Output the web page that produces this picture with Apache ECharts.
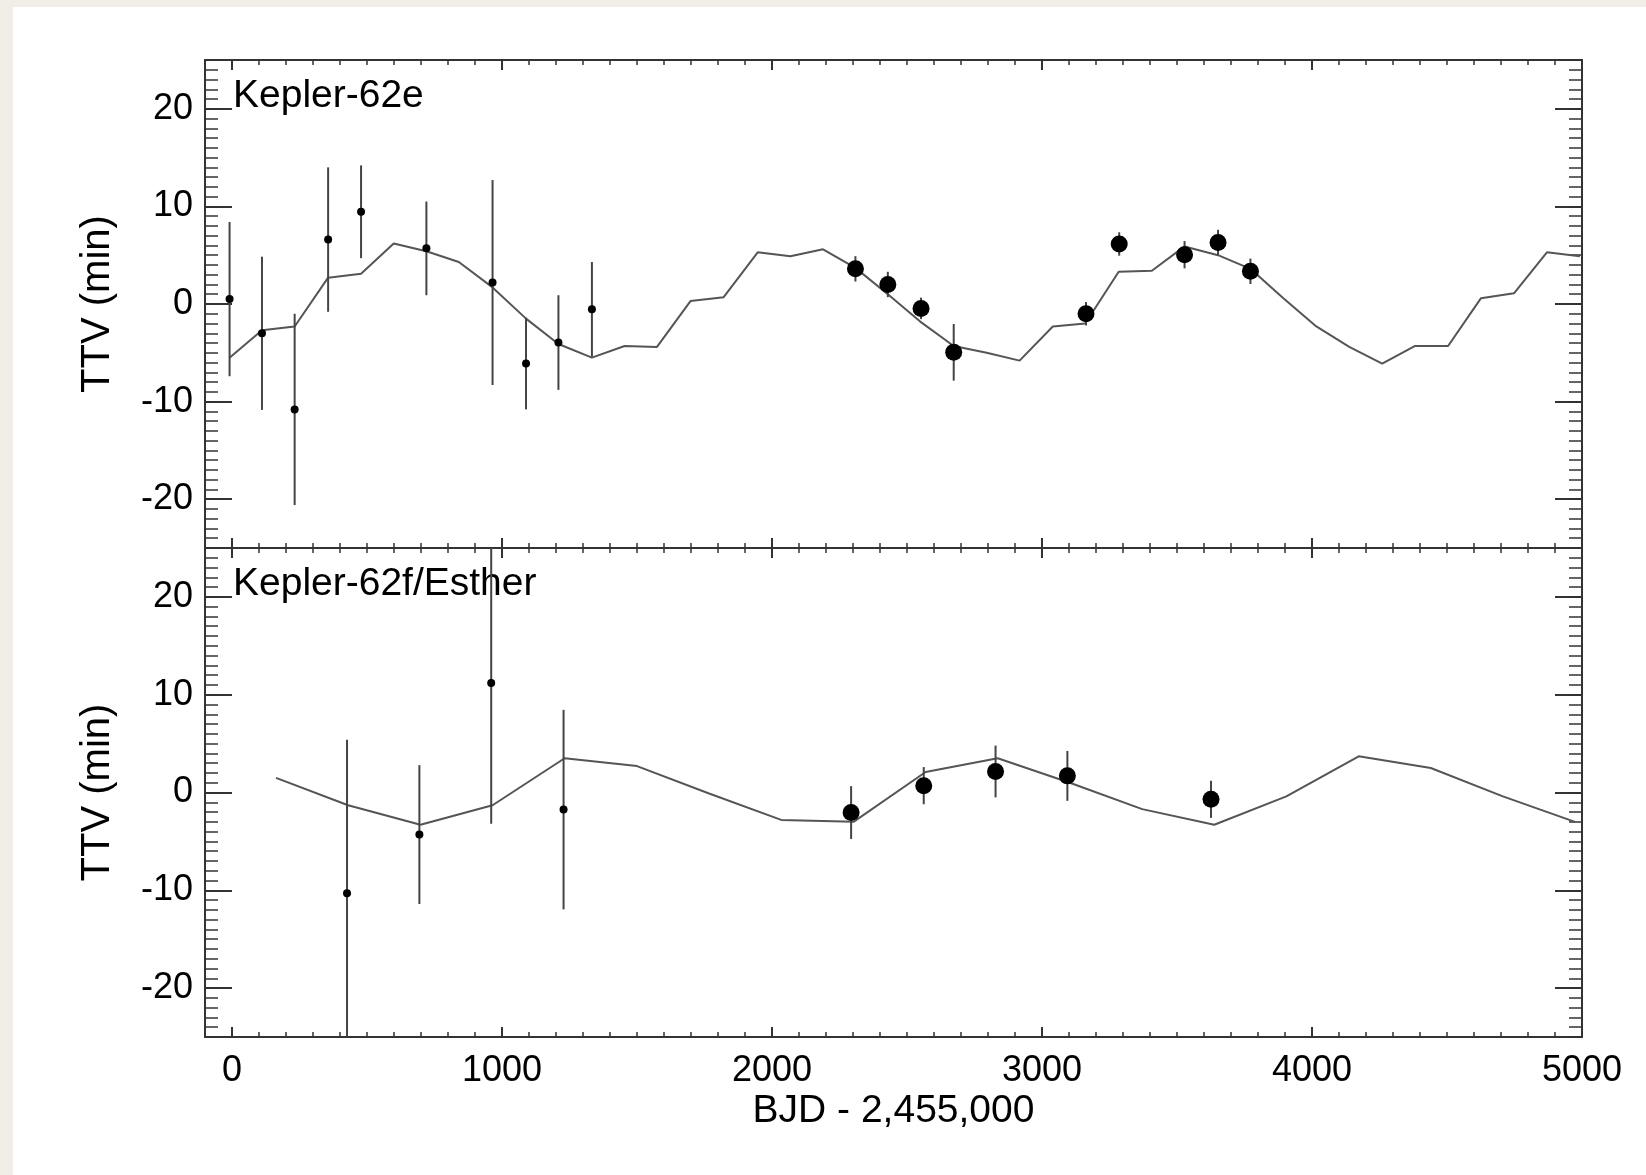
<!DOCTYPE html>
<html lang="en">

<head>
    <meta charset="UTF-8">
    <title>Kepler-62 TTV</title>
    <style>
        html, body { margin: 0; padding: 0; width: 1646px; height: 1175px; background: #f1eee8; overflow: hidden; }
        #paper { position: absolute; left: 13px; top: 7px; right: 0; bottom: 0; background: #fff; }
        #main { position: absolute; left: 0; top: 0; width: 1646px; height: 1175px; }
    </style>
</head>

<body>
    <div id="paper"></div>
    <div id="main"></div>
    <script src="https://cdn.jsdelivr.net/npm/echarts@6/dist/echarts.min.js"></script>
    <script>
    // Kepler-62e : observed transit timing variations (min)
    var eSmallTime = [-9, 111, 232, 356, 478, 720, 965, 1089, 1209, 1333];
    var eSmallTtv = [0.5, -3.0, -10.8, 6.6, 9.45, 5.7, 2.2, -6.1, -3.95, -0.55];
    var eSmallErr = [7.9, 7.85, 9.8, 7.4, 4.75, 4.8, 10.5, 4.7, 4.85, 4.85];
    var eBigTime = [2309, 2429, 2552, 2673, 3163, 3286, 3528, 3652, 3772];
    var eBigTtv = [3.6, 2.0, -0.45, -4.95, -1.0, 6.15, 5.05, 6.3, 3.35];
    var eBigErr = [1.3, 1.3, 1.1, 2.9, 1.2, 1.2, 1.4, 1.3, 1.3];
    // Kepler-62e : model
    var eModelTime = [-9, 111, 232, 356, 478, 599, 720, 840, 965, 1089, 1209, 1333, 1454, 1574, 1698, 1821,
        1947, 2068, 2189, 2309, 2429, 2549, 2673, 2795, 2917, 3040, 3160, 3284, 3407, 3528, 3652, 3772,
        3894, 4016, 4138, 4260, 4382, 4504, 4626, 4748, 4870, 4992];
    var eModelTtv = [-5.5, -2.7, -2.3, 2.7, 3.1, 6.2, 5.4, 4.3, 1.7, -1.5, -4.1, -5.5, -4.3, -4.4, 0.3, 0.7,
        5.3, 4.9, 5.6, 3.7, 1.0, -1.8, -4.3, -5.0, -5.8, -2.3, -2.0, 3.3, 3.4, 5.9, 5.0, 3.6,
        0.6, -2.3, -4.4, -6.1, -4.3, -4.3, 0.6, 1.1, 5.3, 4.9];

    // Kepler-62f : observed
    var fSmallTime = [426, 694, 960, 1228];
    var fSmallTtv = [-10.3, -4.3, 11.2, -1.75];
    var fSmallErr = [15.7, 7.1, 14.4, 10.2];
    var fBigTime = [2293, 2562, 2828, 3094, 3626];
    var fBigTtv = [-2.05, 0.7, 2.15, 1.7, -0.7];
    var fBigErr = [2.7, 1.9, 2.65, 2.55, 1.9];
    // Kepler-62f : model
    var fModelTime = [163, 430, 698, 965, 1232, 1500, 1767, 2034, 2302, 2569, 2836, 3103, 3371, 3638,
        3905, 4173, 4440, 4707, 4974];
    var fModelTtv = [1.5, -1.3, -3.3, -1.3, 3.5, 2.7, -0.1, -2.8, -3.0, 2.1, 3.5, 1.0, -1.7, -3.3,
        -0.4, 3.7, 2.5, -0.4, -3.0];

    // ticks
    var xMajor = [0, 1000, 2000, 3000, 4000, 5000];
    var yMajor = [-20, -10, 0, 10, 20];
    var xMinor = [];
    for (var i = -1; i <= 50; i++) xMinor.push(i * 100);
    var yMinor = [];
    for (var j = -25; j <= 25; j++) yMinor.push(j);

    var FONT = 'Liberation Sans, Arial, Helvetica, sans-serif';
    var INK = '#333';
    var TEXT = '#000';

    function zip() {
        var arrs = arguments, out = [];
        for (var k = 0; k < arrs[0].length; k++) {
            var row = [];
            for (var a = 0; a < arrs.length; a++) row.push(arrs[a][k]);
            out.push(row);
        }
        return out;
    }

    function plain(v) { return String(v); }

    function xAxisDef(grid, pos, major, withLabel) {
        return {
            type: 'value', gridIndex: grid, position: pos, min: -100, max: 5000,
            axisLine: { show: major, onZero: false, lineStyle: { color: INK, width: 2 } },
            axisTick: {
                show: true, inside: true, length: major ? 10 : 5,
                customValues: major ? xMajor : xMinor,
                lineStyle: { color: INK, width: major ? 2 : 1.5 }
            },
            axisLabel: {
                show: !!withLabel, customValues: xMajor, margin: 16, formatter: plain,
                fontSize: 36, fontFamily: FONT, color: TEXT
            },
            splitLine: { show: false },
            name: withLabel ? 'BJD - 2,455,000' : '',
            nameLocation: 'middle', nameGap: 55,
            nameTextStyle: { fontSize: 39, fontFamily: FONT, color: TEXT }
        };
    }

    function yAxisDef(grid, pos, major, withLabel) {
        return {
            type: 'value', gridIndex: grid, position: pos, min: -25, max: 25,
            axisLine: { show: major, onZero: false, lineStyle: { color: INK, width: 2 } },
            axisTick: {
                show: true, inside: true, length: major ? 27 : 13,
                customValues: major ? yMajor : yMinor,
                lineStyle: { color: INK, width: major ? 2 : 1.5 }
            },
            axisLabel: {
                show: !!withLabel, customValues: yMajor, margin: 12, formatter: plain,
                fontSize: 36, fontFamily: FONT, color: TEXT
            },
            splitLine: { show: false },
            name: withLabel ? 'TTV (min)' : '',
            nameLocation: 'middle', nameGap: 87,
            nameTextStyle: { fontSize: 40, fontFamily: FONT, color: TEXT }
        };
    }

    var xAxes = [], yAxes = [];
    [0, 1].forEach(function(g) {
        xAxes.push(xAxisDef(g, 'bottom', true, g === 1));   // index g*4
        xAxes.push(xAxisDef(g, 'bottom', false));
        xAxes.push(xAxisDef(g, 'top', true));
        xAxes.push(xAxisDef(g, 'top', false));
        yAxes.push(yAxisDef(g, 'left', true, true));
        yAxes.push(yAxisDef(g, 'left', false));
        yAxes.push(yAxisDef(g, 'right', true));
        yAxes.push(yAxisDef(g, 'right', false));
    });

    function errorBars(grid, data) {
        return {
            type: 'custom', xAxisIndex: grid * 4, yAxisIndex: grid * 4, data: data, z: 2,
            silent: true,
            renderItem: function(params, api) {
                var x = api.value(0), y = api.value(1), e = api.value(2);
                var a = api.coord([x, y + e]);
                var b = api.coord([x, y - e]);
                var cs = params.coordSys;
                var y1 = Math.max(a[1], cs.y), y2 = Math.min(b[1], cs.y + cs.height);
                return {
                    type: 'line',
                    shape: { x1: a[0], y1: y1, x2: b[0], y2: y2 },
                    style: { stroke: '#444', lineWidth: 2 }
                };
            }
        };
    }

    function model(grid, t, v) {
        return {
            type: 'line', xAxisIndex: grid * 4, yAxisIndex: grid * 4, data: zip(t, v),
            symbol: 'none', clip: true, z: 1, silent: true,
            lineStyle: { color: '#555', width: 2 }
        };
    }

    function points(grid, t, v, size) {
        return {
            type: 'scatter', xAxisIndex: grid * 4, yAxisIndex: grid * 4, data: zip(t, v),
            symbolSize: size, z: 3, silent: true,
            itemStyle: { color: '#000', opacity: 1 }
        };
    }

    var myChart = echarts.init(document.getElementById('main'));

    var option = {
        animation: false,
        grid: [
            { left: 205, top: 60, width: 1377, height: 488 },
            { left: 205, top: 548, width: 1377, height: 489 }
        ],
        xAxis: xAxes,
        yAxis: yAxes,
        graphic: [
            { type: 'text', left: 233, top: 77, style: { text: 'Kepler-62e', font: '39px ' + FONT, fill: TEXT } },
            { type: 'text', left: 233, top: 565, style: { text: 'Kepler-62f/Esther', font: '39px ' + FONT, fill: TEXT } }
        ],
        series: [
            model(0, eModelTime, eModelTtv),
            errorBars(0, zip(eSmallTime, eSmallTtv, eSmallErr)),
            errorBars(0, zip(eBigTime, eBigTtv, eBigErr)),
            points(0, eSmallTime, eSmallTtv, 8),
            points(0, eBigTime, eBigTtv, 17),
            model(1, fModelTime, fModelTtv),
            errorBars(1, zip(fSmallTime, fSmallTtv, fSmallErr)),
            errorBars(1, zip(fBigTime, fBigTtv, fBigErr)),
            points(1, fSmallTime, fSmallTtv, 8),
            points(1, fBigTime, fBigTtv, 17)
        ]
    };

    myChart.setOption(option);
    </script>
</body>

</html>
